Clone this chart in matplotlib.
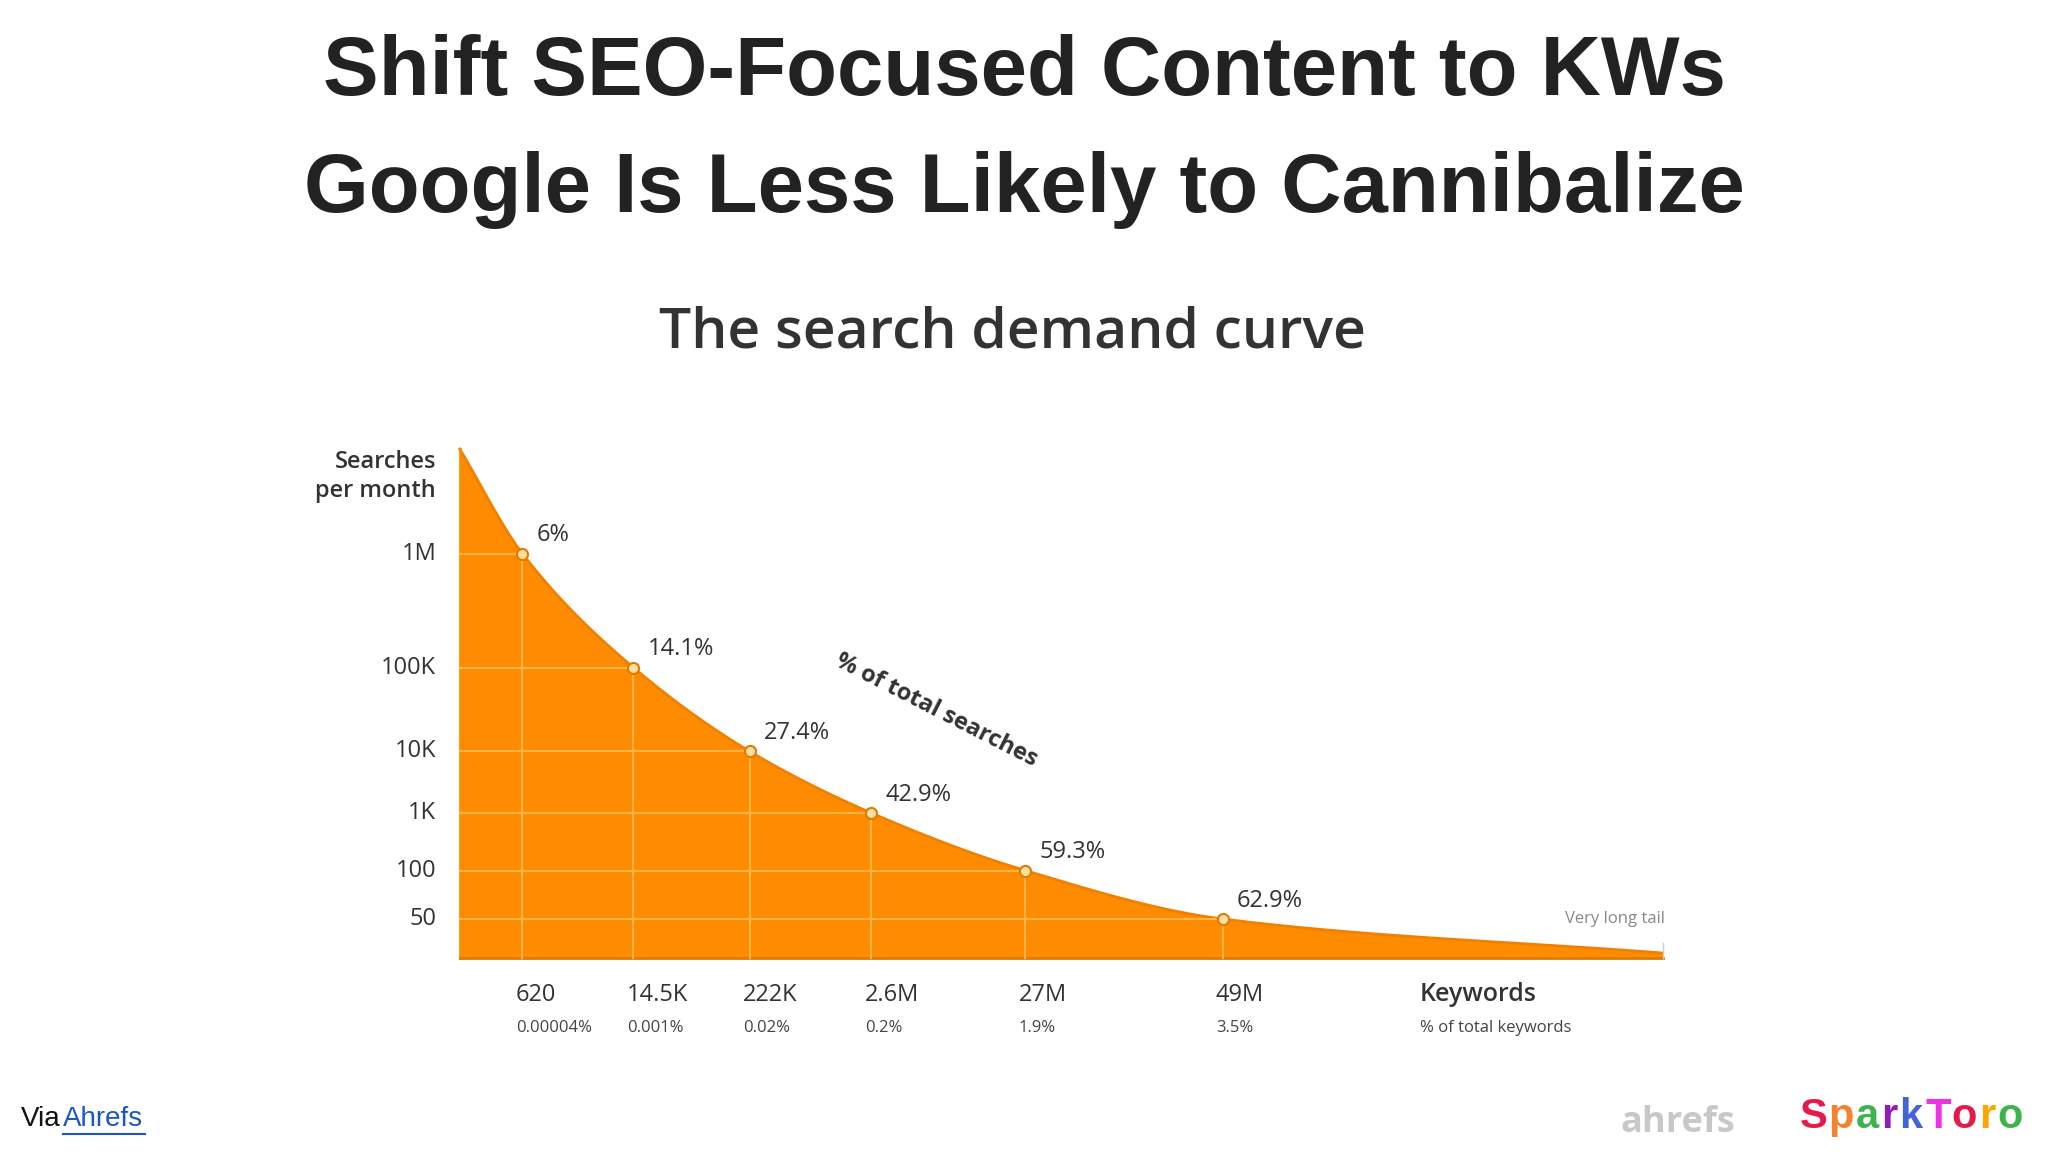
import matplotlib.pyplot as plt
import numpy as np

# data (x and y in the chart's own drawing space)
point_x = [400, 485, 574, 667, 785, 936]
point_y = [423, 510, 574, 621, 665, 702]
search_share = ['6%', '14.1%', '27.4%', '42.9%', '59.3%', '62.9%']
keyword_counts = ['620', '14.5K', '222K', '2.6M', '27M', '49M']
keyword_share = ['0.00004%', '0.001%', '0.02%', '0.2%', '1.9%', '3.5%']
search_ticks = ['1M', '100K', '10K', '1K', '100', '50']

curve_start = (352, 343)
curve_end = (1273, 728)
baseline = 732

ORANGE = '#FF8C00'
LINE = '#F08000'
GRID = '#FFB347'
DARK = '#333333'


def pchip(xs, ys, n=400):
    xs = np.asarray(xs, float)
    ys = np.asarray(ys, float)
    h = np.diff(xs)
    d = np.diff(ys) / h
    m = np.zeros_like(xs)
    m[0], m[-1] = d[0], d[-1]
    for i in range(1, len(xs) - 1):
        if d[i - 1] * d[i] > 0:
            w1 = 2 * h[i] + h[i - 1]
            w2 = h[i] + 2 * h[i - 1]
            m[i] = (w1 + w2) / (w1 / d[i - 1] + w2 / d[i])
    xo = np.linspace(xs[0], xs[-1], n)
    k = np.clip(np.searchsorted(xs, xo) - 1, 0, len(xs) - 2)
    t = (xo - xs[k]) / h[k]
    h00 = 2 * t**3 - 3 * t**2 + 1
    h10 = t**3 - 2 * t**2 + t
    h01 = -2 * t**3 + 3 * t**2
    h11 = t**3 - t**2
    yo = h00 * ys[k] + h10 * h[k] * m[k] + h01 * ys[k + 1] + h11 * h[k] * m[k + 1]
    return xo, yo


fig = plt.figure(figsize=(20.48, 11.52), dpi=100)
ax = fig.add_axes([0, 0, 1, 1])
ax.set_xlim(0, 1568)
ax.set_ylim(880, 0)
ax.axis('off')

# titles
fig.text(0.5, 0.937, 'Shift SEO-Focused Content to KWs', ha='center', va='center',
         fontsize=60, fontweight='bold', family='Liberation Sans', color='#222222')
fig.text(0.5, 0.835, 'Google Is Less Likely to Cannibalize', ha='center', va='center',
         fontsize=60, fontweight='bold', family='Liberation Sans', color='#222222')
ax.text(775, 255, 'The search demand curve', ha='center', va='center',
        fontsize=41, family='Open Sans', fontweight='semibold', color=DARK)

# curve
cx = [curve_start[0]] + point_x + [curve_end[0]]
cy = [curve_start[1]] + point_y + [curve_end[1]]
xs, ys = pchip(cx, cy)
ax.fill_between(xs, ys, baseline, color=ORANGE, lw=0)
ax.plot(xs, ys, color=LINE, lw=2)
ax.plot([curve_start[0], curve_start[0]], [curve_start[1], baseline], color=ORANGE, lw=2)
ax.plot([curve_start[0], curve_end[0]], [baseline, baseline], color='#E07A00', lw=2)
ax.plot([curve_end[0], curve_end[0]], [720, baseline], color='#cccccc', lw=1)

for x, y, s, kc, ks, tk in zip(point_x, point_y, search_share, keyword_counts,
                               keyword_share, search_ticks):
    ax.plot([x, x], [y, baseline], color=GRID, lw=1.5)
    ax.plot([curve_start[0], x], [y, y], color=GRID, lw=1.5)
    ax.plot(x, y, 'o', ms=8, mfc='#FFE0A0', mec='#E07A00', mew=1.5, zorder=5)
    ax.text(x + 11, y - 14, s, fontsize=17, family='Open Sans', color=DARK, va='center')
    ax.text(x - 5, 760, kc, fontsize=17, family='Open Sans', color=DARK, va='center')
    ax.text(x - 5, 785, ks, fontsize=12, family='Open Sans', color='#444444', va='center')
    ax.text(334, y, tk, fontsize=17, family='Open Sans', color=DARK, va='center', ha='right')

ax.text(334, 364, 'Searches\nper month', fontsize=17, family='Open Sans', color=DARK,
        ha='right', va='center', linespacing=1.3, fontweight='semibold')
ax.text(1087, 760, 'Keywords', fontsize=18, family='Open Sans', color=DARK, va='center',
        fontweight='semibold')
ax.text(1087, 785, '% of total keywords', fontsize=12, family='Open Sans',
        color='#444444', va='center')
ax.text(1275, 702, 'Very long tail', fontsize=12, family='Open Sans', color='#888888',
        va='center', ha='right')
ax.text(717, 543, '% of total searches', fontsize=17, family='Open Sans', color=DARK,
        fontweight='bold', rotation=-27, ha='center', va='center')

# footer
ax.text(16, 855, 'Via', fontsize=20, family='Liberation Sans', color='#111111', va='center')
ax.text(48, 855, 'Ahrefs', fontsize=20, family='Liberation Sans', color='#1a56c4',
        va='center')
ax.plot([48, 111], [866, 866], color='#1a56c4', lw=1.5)
ax.text(1285, 858, 'ahrefs', fontsize=26, family='Open Sans', color='#c8c8c8',
        fontweight='bold', va='center', ha='center')
spark_colors = ['#e6194b', '#f58231', '#3cb44b', '#911eb4', '#4363d8', '#f032e6',
                '#e6194b', '#ffa500', '#3cb44b', '#4363d8']
x0 = 1378
for ch, c in zip('SparkToro', spark_colors):
    ax.text(x0, 853, ch, fontsize=30, family='Liberation Sans', fontweight='bold',
            color=c, va='center')
    x0 += {'S': 22, 'p': 21, 'a': 19, 'r': 14, 'k': 20, 'T': 20, 'o': 21}[ch]

fig.savefig('out.png', dpi=100)
